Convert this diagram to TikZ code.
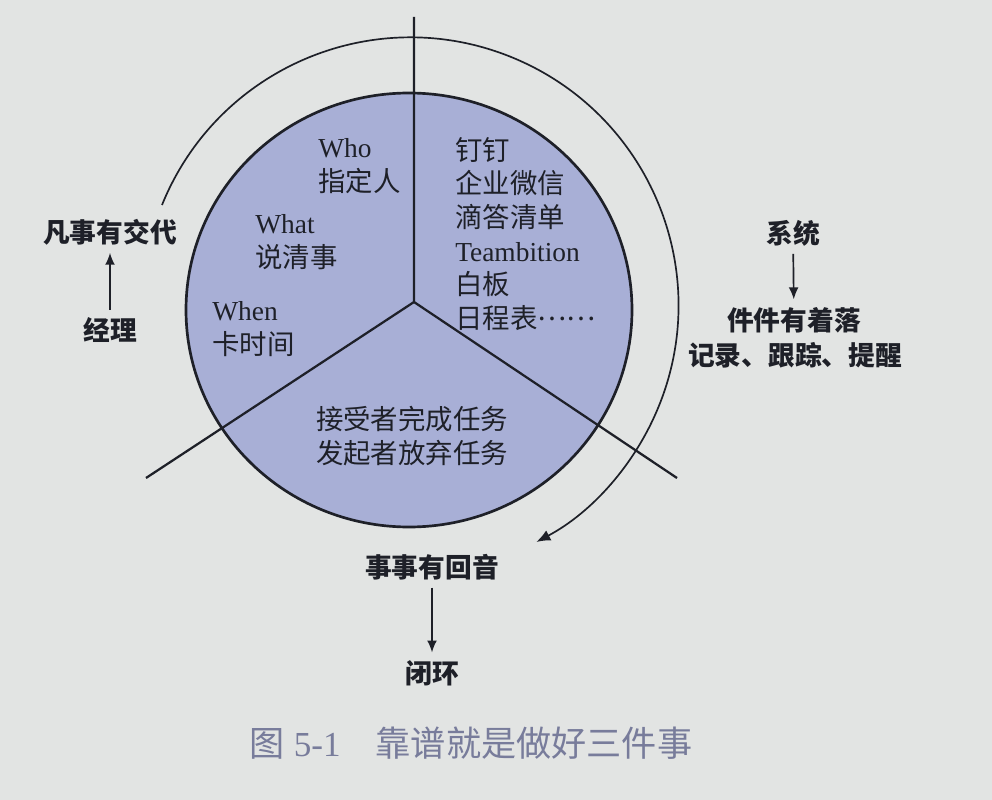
\documentclass[tikz,border=0pt]{standalone}
\usepackage{fontspec}
\setmainfont{Liberation Serif}
\newfontfamily\cjk{Noto Sans CJK SC}
\usetikzlibrary{arrows.meta}
\definecolor{paper}{RGB}{226,228,227}
\definecolor{disc}{RGB}{168,175,214}
\definecolor{ink}{RGB}{30,32,40}
\definecolor{capgray}{RGB}{120,124,155}

\begin{document}
\begin{tikzpicture}
    [
    x=0.025cm, y=-0.025cm,
    arrow/.style={
        ink,
        line width=1.2pt,
        -{Latex[length=8.5pt,width=7pt]},
        shorten <=2pt,
        shorten >=2pt
    },
    slice/.style={
        ink,
        inner sep=0pt,
        align=left, % lines start at the same left edge
        font=\fontsize{19.5}{23.9}\selectfont
    },
    outside/.style={
        ink,
        font=\cjk\bfseries\fontsize{19}{24}\selectfont
    },
    ]

    \fill[paper] (0,0) rectangle (992,800);

    \draw[ink, line width=1.9pt, fill=disc] (409,310) ellipse [x radius=223, y radius=217];
    \coordinate (hub) at (414,302);
    \coordinate (top) at (414,17);
    \coordinate (lowleft) at (146,478);
    \coordinate (lowright) at (677,478);
    \draw[ink, line width=1.6pt] (top) -- (hub) -- (lowleft);
    \draw[ink, line width=1.6pt] (hub) -- (lowright);

    \draw[ink, line width=1.2pt, -{Latex[length=10pt,width=8pt]}]
        (162,205) arc[start angle=-158, end angle=62, radius=268];

    \draw (318,166) node[slice, anchor=west] (who) {Who\\{\cjk 指定人}};
    \draw (255,242) node[slice, anchor=west] (what) {What\\{\cjk 说清事}};
    \draw (212,329) node[slice, anchor=west] (when) {When\\{\cjk 卡时间}};
    \draw (455,234) node[slice, anchor=west] (tools)
        {{\cjk 钉钉}\\{\cjk 企业微信}\\{\cjk 滴答清单}\\Teambition\\{\cjk 白板}\\{\cjk 日程表}\raisebox{0.3em}{\cjk ……}};
    \draw (412,436) node[slice, align=center] (finish) {{\cjk 接受者完成任务}\\{\cjk 发起者放弃任务}};

    \draw (110,232) node[outside] (handover) {凡事有交代};
    \draw (110,330) node[outside] (manager) {经理};
    \draw (793,233) node[outside] (system) {系统};
    \draw (794,320) node[outside] (landing) {件件有着落};
    \draw (795,355) node[outside] (track) {记录、跟踪、提醒};
    \draw (432,567) node[outside] (echo) {事事有回音};
    \draw (432,673) node[outside] (loop) {闭环};

    \draw [arrow] (manager) -- (handover);
    \draw [arrow] (system) -- (landing);
    \draw [arrow] (echo) -- (loop);

    \draw (471,743) node[capgray, font=\fontsize{25}{30}\selectfont] (caption)
        {{\cjk 图} 5-1\quad{\cjk 靠谱就是做好三件事}};

\end{tikzpicture}
\end{document}
